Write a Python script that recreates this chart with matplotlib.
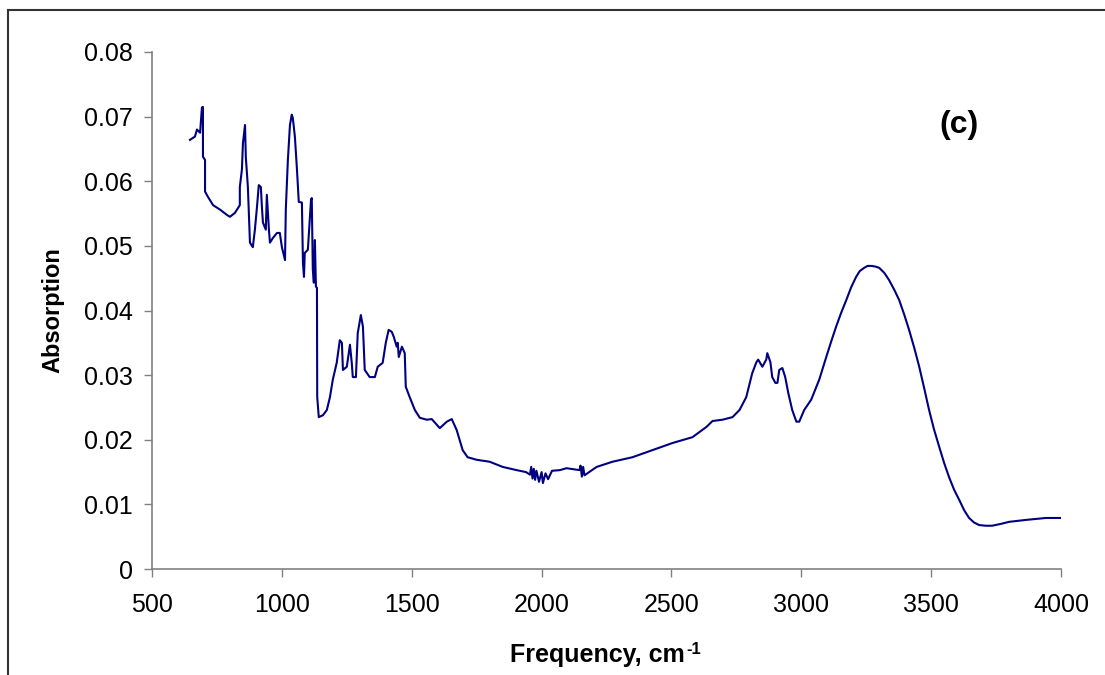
import matplotlib
matplotlib.use("Agg")
import matplotlib.pyplot as plt
from matplotlib.lines import Line2D

plt.rcParams["font.family"] = ["Liberation Sans", "DejaVu Sans"]

# spectrum (frequency in cm-1, absorption)
frequency = [
    646, 665, 673, 685, 692, 696, 696, 704, 704, 715, 735, 762, 788, 800,
    819, 838, 838, 846, 850, 858, 861, 869, 877, 888, 896, 904, 911, 919,
    923, 927, 938, 942, 950, 954, 965, 981, 992, 1000, 1012, 1015, 1023,
    1031, 1038, 1042, 1050, 1058, 1065, 1077, 1081, 1085, 1088, 1100, 1112,
    1115, 1119, 1123, 1127, 1131, 1135, 1136, 1142, 1158, 1173, 1185, 1196,
    1211, 1223, 1231, 1235, 1250, 1262, 1269, 1273, 1285, 1292, 1304, 1312,
    1319, 1338, 1358, 1369, 1388, 1400, 1411, 1423, 1431, 1442, 1446, 1450,
    1462, 1473, 1477, 1492, 1512, 1531, 1558, 1577, 1608, 1635, 1654, 1673,
    1696, 1715, 1750, 1800, 1850, 1904, 1940, 1955, 1960, 1965, 1970, 1975,
    1980, 1990, 2000, 2005, 2015, 2025, 2040, 2070, 2096, 2146, 2150, 2155,
    2160, 2165, 2212, 2273, 2350, 2427, 2504, 2581, 2635, 2658, 2696, 2735,
    2762, 2788, 2811, 2827, 2834, 2850, 2865, 2869, 2881, 2888, 2900, 2908,
    2915, 2927, 2938, 2950, 2965, 2981, 2992, 3011, 3038, 3069, 3096, 3115,
    3134, 3153, 3173, 3192, 3211, 3225, 3242, 3255, 3269, 3285, 3300, 3320,
    3338, 3358, 3377, 3396, 3415, 3435, 3454, 3473, 3492, 3511, 3531, 3550,
    3569, 3588, 3608, 3627, 3646, 3665, 3685, 3710, 3735, 3770, 3800, 3865,
    3942, 4000,
]
absorption = [
    0.0664, 0.0669, 0.0680, 0.0675, 0.0714, 0.0715, 0.0638, 0.0633, 0.0584,
    0.0576, 0.0563, 0.0556, 0.0548, 0.0545, 0.0551, 0.0563, 0.0591, 0.0618,
    0.0659, 0.0687, 0.0638, 0.0591, 0.0505, 0.0498, 0.0525, 0.0560, 0.0594,
    0.0591, 0.0560, 0.0536, 0.0525, 0.0579, 0.0525, 0.0505, 0.0512, 0.0520,
    0.0520, 0.0498, 0.0478, 0.0556, 0.0633, 0.0687, 0.0703, 0.0698, 0.0669,
    0.0618, 0.0568, 0.0567, 0.0474, 0.0452, 0.0489, 0.0494, 0.0571, 0.0574,
    0.0463, 0.0443, 0.0509, 0.0437, 0.0435, 0.0266, 0.0235, 0.0238, 0.0246,
    0.0266, 0.0293, 0.0319, 0.0354, 0.0350, 0.0308, 0.0313, 0.0347, 0.0319,
    0.0297, 0.0297, 0.0365, 0.0393, 0.0375, 0.0308, 0.0297, 0.0297, 0.0313,
    0.0319, 0.0350, 0.0370, 0.0367, 0.0359, 0.0344, 0.0350, 0.0328, 0.0344,
    0.0334, 0.0282, 0.0266, 0.0246, 0.0234, 0.0231, 0.0232, 0.0218, 0.0228,
    0.0232, 0.0215, 0.0184, 0.0173, 0.0169, 0.0166, 0.0158, 0.0153, 0.0150,
    0.0146, 0.0158, 0.0140, 0.0155, 0.0138, 0.0152, 0.0135, 0.0150, 0.0133,
    0.0148, 0.0139, 0.0152, 0.0153, 0.0156, 0.0153, 0.0160, 0.0143, 0.0158,
    0.0145, 0.0158, 0.0166, 0.0173, 0.0184, 0.0195, 0.0204, 0.0220, 0.0229,
    0.0231, 0.0235, 0.0246, 0.0266, 0.0303, 0.0320, 0.0324, 0.0313, 0.0324,
    0.0334, 0.0320, 0.0297, 0.0288, 0.0288, 0.0308, 0.0311, 0.0297, 0.0272,
    0.0246, 0.0228, 0.0228, 0.0246, 0.0262, 0.0293, 0.0328, 0.0352,
    0.0375, 0.0396, 0.0416, 0.0436, 0.0452, 0.0461, 0.0466, 0.0469,
    0.0469, 0.0468, 0.0466, 0.0458, 0.0447, 0.0432, 0.0416, 0.0394,
    0.0370, 0.0342, 0.0313, 0.0280, 0.0246, 0.0216, 0.0189, 0.0164,
    0.0142, 0.0123, 0.0107, 0.0091, 0.0079, 0.0072, 0.0068, 0.0067,
    0.0067, 0.0070, 0.0073, 0.0076, 0.0079, 0.0079,
]

x_ticks = [500, 1000, 1500, 2000, 2500, 3000, 3500, 4000]
y_ticks = [0, 0.01, 0.02, 0.03, 0.04, 0.05, 0.06, 0.07, 0.08]
y_labels = ["0", "0.01", "0.02", "0.03", "0.04", "0.05", "0.06", "0.07", "0.08"]

fig = plt.figure(figsize=(11.05, 6.75), dpi=100)
ax = fig.add_axes([0.1376, 0.157, 0.8226, 0.766])

ax.plot(frequency, absorption, color="#000080", linewidth=1.5)

ax.set_xlim(500, 4000)
ax.set_ylim(0, 0.08)
ax.set_xticks(x_ticks)
ax.set_yticks(y_ticks)
ax.set_yticklabels(y_labels)

for side in ["top", "right"]:
    ax.spines[side].set_visible(False)
for side in ["left", "bottom"]:
    ax.spines[side].set_color("#808080")
    ax.spines[side].set_linewidth(1.2)

ax.tick_params(direction="out", length=6, width=1, color="#808080",
               labelsize=18)
ax.tick_params(axis="y", pad=8)
ax.tick_params(axis="x", pad=11)

ax.set_ylabel("Absorption", fontsize=17, fontweight="bold", labelpad=14)
ax.set_xlabel("Frequency, cm", fontsize=18, fontweight="bold", labelpad=19)
ax.xaxis.label.set_x(0.49)
ax.annotate("-1", xy=(1, 1), xycoords=ax.xaxis.label, xytext=(1, 1),
            textcoords="offset points", fontsize=12, fontweight="bold",
            ha="left", va="top")

ax.text(0.888, 0.859, "(c)", transform=ax.transAxes, fontsize=23,
        fontweight="bold", ha="center", va="center")

# outer frame (cut off at right and bottom like the reference)
fx0, fy1 = 8 / 1105, 1 - 10 / 675
fig.add_artist(Line2D([fx0, fx0], [0, fy1], transform=fig.transFigure,
                      color="#333333", linewidth=1.5))
fig.add_artist(Line2D([fx0, 1], [fy1, fy1], transform=fig.transFigure,
                      color="#333333", linewidth=1.5))

fig.savefig("out.png", dpi=100)
